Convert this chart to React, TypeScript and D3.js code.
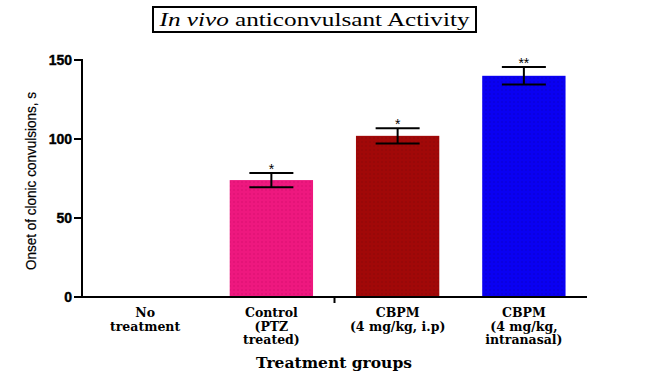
import React from "react";
import * as d3 from "d3";

const categories = ["No treatment", "Control (PTZ treated)", "CBPM (4 mg/kg, i.p)", "CBPM (4 mg/kg, intranasal)"];
const categoryLines = [["No", "treatment"], ["Control", "(PTZ", "treated)"], ["CBPM", "(4 mg/kg, i.p)"], ["CBPM", "(4 mg/kg,", "intranasal)"]];
const values = [0, 74, 102, 140];
const errors = [0, 4.5, 4.8, 5.5];
const stars = ["", "*", "*", "**"];
const colors = ["none", "#ee187f", "#a10808", "#0a00f2"];
const dotColors = ["none", "#d80f6e", "#8c0606", "#0800cc"];
const yTicks = [0, 50, 100, 150];

export default function App() {
  const W = 649, H = 382;
  const x = d3.scaleBand<string>().domain(categories).range([82, 587]).paddingInner(0.34).paddingOuter(0.17);
  const y = d3.scaleLinear().domain([0, 150]).range([297, 60]);
  const bw = x.bandwidth();
  return (
    <svg width={W} height={H} style={{ position: "absolute", left: 0, top: 0, background: "#fff" }}>
      <defs>
        {colors.map((c, i) => (
          <pattern key={i} id={`pat${i}`} width={4} height={4} patternUnits="userSpaceOnUse">
            <rect width={4} height={4} fill={c} />
            <circle cx={2} cy={2} r={0.8} fill={dotColors[i]} />
          </pattern>
        ))}
      </defs>
      <rect x={0} y={0} width={W} height={H} fill="#fff" />
      {/* Title */}
      <rect x={153} y={7} width={323} height={25} fill="#fff" stroke="#000" strokeWidth={2} />
      <text x={314.5} y={26} textAnchor="middle" fontFamily="'Liberation Serif', 'DejaVu Serif', serif" fontSize={19} fill="#000" textLength={310} lengthAdjust="spacingAndGlyphs">
        <tspan fontStyle="italic">In vivo</tspan> anticonvulsant Activity
      </text>
      {/* Bars */}
      {categories.map((c, i) => values[i] > 0 && (
        <rect key={c} x={x(c)} y={y(values[i])} width={bw} height={y(0) - y(values[i])} fill={`url(#pat${i})`} />
      ))}
      {/* Error bars */}
      {categories.map((c, i) => values[i] > 0 && (
        <g key={c} stroke="#000" strokeWidth={2}>
          <line x1={x(c)! + bw / 2} x2={x(c)! + bw / 2} y1={y(values[i] + errors[i])} y2={y(values[i] - errors[i])} />
          <line x1={x(c)! + bw / 2 - 22} x2={x(c)! + bw / 2 + 22} y1={y(values[i] + errors[i])} y2={y(values[i] + errors[i])} />
          <line x1={x(c)! + bw / 2 - 22} x2={x(c)! + bw / 2 + 22} y1={y(values[i] - errors[i])} y2={y(values[i] - errors[i])} />
        </g>
      ))}
      {categories.map((c, i) => stars[i] && (
        <text key={c} x={x(c)! + bw / 2} y={y(values[i] + errors[i]) + 1} textAnchor="middle" fontFamily="'Liberation Sans', Arial, sans-serif" fontSize={14} fill="#000">{stars[i]}</text>
      ))}
      {/* Axes */}
      <line x1={82} x2={82} y1={59} y2={298} stroke="#000" strokeWidth={2} />
      <line x1={81} x2={587} y1={297} y2={297} stroke="#000" strokeWidth={2} />
      <line x1={(x(categories[1])! + bw + x(categories[2])!) / 2} x2={(x(categories[1])! + bw + x(categories[2])!) / 2} y1={297} y2={303} stroke="#000" strokeWidth={2} />
      {yTicks.map(t => (
        <g key={t}>
          <line x1={74} x2={82} y1={y(t)} y2={y(t)} stroke="#000" strokeWidth={2} />
          <text x={72} y={y(t) + 5} textAnchor="end" fontFamily="'Liberation Sans', Arial, sans-serif" fontWeight="bold" fontSize={14} fill="#000" stroke="#000" strokeWidth={0.4}>{t}</text>
        </g>
      ))}
      <text transform="translate(36,181) rotate(-90)" textAnchor="middle" fontFamily="'Liberation Sans Narrow', 'Liberation Sans', sans-serif" fontSize={15} fill="#000" stroke="#000" strokeWidth={0.2} textLength={178} lengthAdjust="spacingAndGlyphs">Onset of clonic convulsions, s</text>
      {/* Category labels */}
      {categories.map((c, i) => (
        <text key={c} x={x(c)! + bw / 2} y={317} textAnchor="middle" fontFamily="'DejaVu Serif', 'Liberation Serif', serif" fontWeight="bold" fontSize={12.5} fill="#000">
          {categoryLines[i].map((l, j) => (
            <tspan key={j} x={x(c)! + bw / 2} dy={j === 0 ? 0 : 13.5}>{l}</tspan>
          ))}
        </text>
      ))}
      <text x={334} y={368} textAnchor="middle" fontFamily="'DejaVu Serif', 'Liberation Serif', serif" fontWeight="bold" fontSize={15.5} fill="#000">Treatment groups</text>
    </svg>
  );
}
